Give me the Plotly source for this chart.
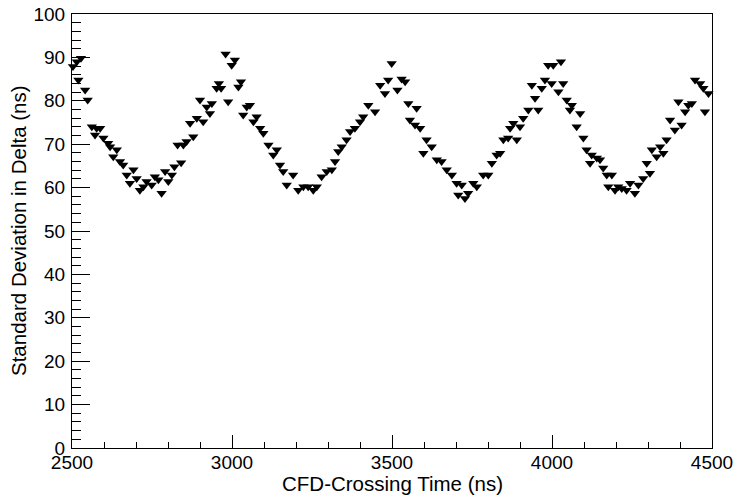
import plotly.graph_objects as go

# CFD-crossing time (ns) and standard deviation in Delta (ns)
crossing_time = [
    2503, 2515, 2520, 2528, 2541, 2549, 2562, 2572, 2577, 2588, 2598, 2613, 2619, 2629, 2640,
    2650, 2660, 2671, 2681, 2692, 2702, 2712, 2723, 2733, 2749, 2759, 2770, 2780, 2791, 2801,
    2812, 2820, 2830, 2841, 2848, 2858, 2869, 2879, 2890, 2900, 2910, 2921, 2931, 2937, 2952,
    2959, 2966, 2980, 2988, 2999, 3009, 3020, 3028, 3035, 3046, 3056, 3067, 3077, 3088, 3098,
    3114, 3129, 3140, 3150, 3160, 3171, 3191, 3207, 3223, 3238, 3254, 3265, 3280, 3296, 3312,
    3322, 3332, 3343, 3358, 3369, 3384, 3400, 3410, 3426, 3447, 3463, 3478, 3488, 3499, 3517,
    3530, 3541, 3551, 3556, 3572, 3577, 3588, 3598, 3608, 3624, 3640, 3655, 3671, 3687, 3702,
    3707, 3718, 3728, 3738, 3754, 3765, 3785, 3801, 3812, 3827, 3838, 3848, 3863, 3869, 3879,
    3890, 3900, 3910, 3926, 3937, 3947, 3957, 3968, 3978, 3988, 3999, 4004, 4020, 4028, 4035,
    4046, 4056, 4062, 4077, 4088, 4098, 4108, 4119, 4124, 4140, 4150, 4160, 4171, 4176, 4187,
    4197, 4207, 4218, 4233, 4244, 4259, 4270, 4285, 4296, 4306, 4312, 4327, 4338, 4348, 4358,
    4369, 4384, 4395, 4405, 4416, 4426, 4437, 4447, 4463, 4473, 4478, 4489,
]
std_dev = [
    87.9, 89.0, 84.8, 89.8, 82.5, 80.2, 74.0, 72.1, 73.7, 73.7, 71.4, 70.2, 69.4, 67.1, 68.7,
    66.0, 65.2, 62.9, 61.0, 64.1, 62.1, 59.4, 60.2, 61.4, 60.6, 62.5, 61.8, 58.7, 63.7, 61.4,
    62.9, 64.8, 69.8, 65.7, 69.8, 70.6, 74.8, 71.7, 76.0, 80.2, 75.2, 78.6, 77.1, 79.4, 82.9,
    84.0, 82.9, 90.8, 79.8, 88.2, 89.4, 83.2, 84.4, 76.7, 78.6, 79.0, 75.2, 76.3, 73.7, 72.5,
    69.8, 67.5, 68.7, 65.2, 63.7, 60.6, 62.9, 59.4, 60.2, 60.2, 59.4, 60.2, 62.5, 63.7, 64.1,
    66.0, 68.3, 69.4, 71.0, 72.9, 73.7, 75.2, 76.3, 79.0, 77.5, 83.6, 81.7, 84.8, 88.6, 82.5,
    85.0, 84.4, 79.4, 75.6, 74.4, 78.3, 73.7, 67.9, 71.0, 69.4, 66.4, 66.0, 64.1, 62.9, 61.0,
    58.3, 60.6, 57.5, 58.7, 61.0, 60.2, 62.9, 62.9, 65.6, 67.5, 67.9, 71.0, 71.4, 73.7, 74.8,
    71.0, 74.0, 76.0, 77.9, 83.6, 80.6, 77.9, 82.9, 84.8, 88.2, 84.0, 88.2, 82.1, 89.0, 84.0,
    80.2, 77.9, 79.0, 74.0, 77.1, 71.4, 68.7, 65.6, 67.5, 66.8, 66.4, 64.5, 62.9, 60.2, 62.9,
    59.4, 60.2, 59.8, 59.4, 61.0, 58.7, 60.6, 62.1, 65.6, 63.3, 68.7, 67.1, 69.4, 67.9, 71.0,
    75.6, 73.3, 79.8, 74.4, 77.5, 79.0, 79.4, 84.8, 84.0, 82.9, 77.5, 81.7,
]

x_title = "CFD-Crossing Time (ns)"
y_title = "Standard Deviation in Delta (ns)"

FONT = "Liberation Sans, Arial, Helvetica, sans-serif"

fig = go.Figure()
fig.add_trace(go.Scatter(
    x=crossing_time, y=std_dev, mode="markers",
    marker=dict(symbol="triangle-down", size=9, color="black", line=dict(width=0)),
    showlegend=False, cliponaxis=False,
))

fig.update_layout(
    width=735, height=500, autosize=False,
    margin=dict(l=72, r=23, t=14, b=52, pad=0, autoexpand=False),
    paper_bgcolor="white", plot_bgcolor="white",
    font=dict(family=FONT, color="black", size=19),
    xaxis=dict(
        range=[2500, 4500], tick0=2500, dtick=500, automargin=False,
        showgrid=False, zeroline=False,
        showline=True, linecolor="black", linewidth=1, mirror=True,
        ticks="inside", ticklen=13, tickwidth=1, tickcolor="black",
        minor=dict(dtick=100, ticks="inside", ticklen=6, tickwidth=1, tickcolor="black", showgrid=False),
        tickfont=dict(size=19, family=FONT), ticklabelstandoff=-3,
    ),
    yaxis=dict(
        range=[0, 100], tick0=0, dtick=10, automargin=False,
        showgrid=False, zeroline=False,
        showline=True, linecolor="black", linewidth=1, mirror=True,
        ticks="inside", ticklen=18, tickwidth=1, tickcolor="black",
        minor=dict(dtick=2, ticks="inside", ticklen=9, tickwidth=1, tickcolor="black", showgrid=False),
        tickfont=dict(size=19, family=FONT), ticklabelstandoff=2,
    ),
    annotations=[
        dict(text=x_title, xref="paper", yref="paper", x=0.5, y=0, xanchor="center",
             yanchor="middle", yshift=-35, showarrow=False, font=dict(size=20.5, family=FONT)),
        dict(text=y_title, xref="paper", yref="paper", x=0, y=0.5, xanchor="center",
             yanchor="middle", xshift=-54, textangle=-90, showarrow=False,
             font=dict(size=20.5, family=FONT)),
    ],
)

fig.write_html(
    "out.html",
    config={"responsive": False, "displayModeBar": False},
    post_script="document.body.style.margin='0';document.body.style.padding='0';",
)
